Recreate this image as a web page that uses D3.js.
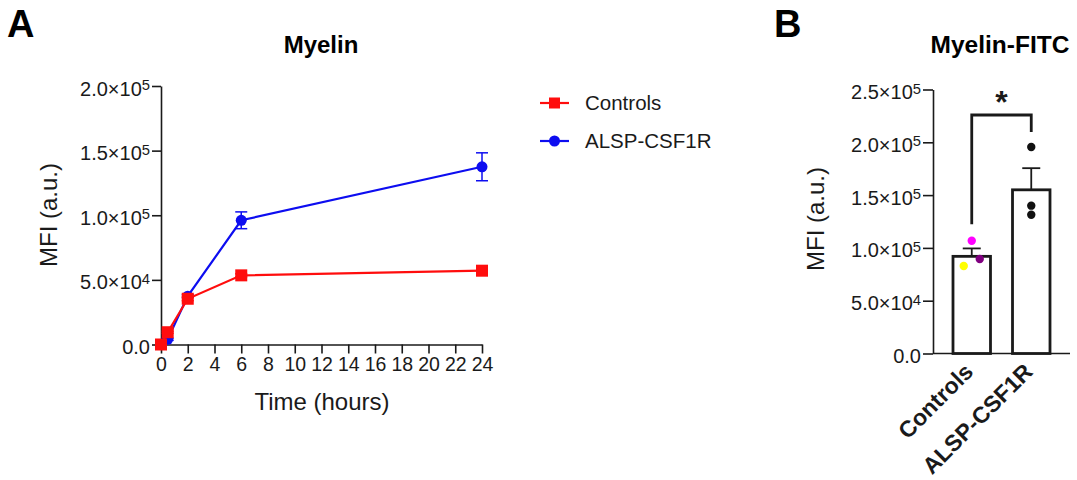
<!DOCTYPE html>
<html><head><meta charset="utf-8">
<script src="https://cdn.jsdelivr.net/npm/d3@7"></script>
<style>body{margin:0;background:#fff}svg{display:block;font-family:"Liberation Sans",Arial,sans-serif}</style>
</head><body><svg id="c" width="1077" height="480"></svg>
<script>
// Panel A data
const times = [0, 0.5, 2, 6, 24];
const controlsMean = [0, 9500, 35400, 53500, 57100];
const controlsErr = [0, 800, 1500, 1200, 1200];
const alspMean = [0, 4000, 37400, 96100, 137500];
const alspErr = [0, 800, 1200, 6500, 10800];
const xTicksA = [0,2,4,6,8,10,12,14,16,18,20,22,24];
const yTicksA = [0, 50000, 100000, 150000, 200000];
// Panel B data
const categoriesB = ["Controls", "ALSP-CSF1R"];
const barMeansB = [92000, 155000];
const barSemB = [7500, 20500];
const controlsPoints = [82900, 106800, 89500];
const alspPoints = [195500, 140000, 131400];
const controlsPointColors = ["#ffff00", "#ff00ff", "#800080"];
const yTicksB = [0, 50000, 100000, 150000, 200000, 250000];

const svg = d3.select("#c");
const ink = "#1a1a1a";
const TICK_FS = 20;

function sciLabels(axisG, fs) {
  axisG.selectAll(".tick text").each(function(d) {
    const t = d3.select(this);
    t.text("");
    if (d === 0) { t.text("0.0"); return; }
    const e = Math.floor(Math.log10(d));
    const m = (d / Math.pow(10, e)).toFixed(1);
    t.append("tspan").text(m + "\u00d710");
    t.append("tspan").attr("dy", "-0.36em").attr("font-size", fs * 0.74).text(e);
  });
}
function styleAxis(g, fs) {
  g.selectAll("path,line").attr("stroke", ink).attr("stroke-width", 1.6);
  g.selectAll("text").attr("fill", ink).attr("font-size", fs).attr("font-family", "Liberation Sans, Arial, sans-serif");
}

// ---------- Panel A ----------
const xA = d3.scaleLinear().domain([0, 24]).range([161, 482]);
const yA = d3.scaleLinear().domain([0, 200000]).range([344.5, 86]);

svg.append("text").attr("x", 7).attr("y", 37).attr("font-size", 38).attr("font-weight", "bold").text("A");
svg.append("text").attr("x", 321).attr("y", 53).attr("text-anchor", "middle").attr("font-size", 24).attr("font-weight", "bold").text("Myelin");

const gxA = svg.append("g").attr("transform", `translate(0,${yA(0)})`)
  .call(d3.axisBottom(xA).tickValues(xTicksA).tickSize(9).tickPadding(4).tickSizeOuter(0));
styleAxis(gxA, 19.5);
const gyA = svg.append("g").attr("transform", `translate(${xA(0)},0)`)
  .call(d3.axisLeft(yA).tickValues(yTicksA).tickSize(9).tickPadding(2).tickSizeOuter(0));
styleAxis(gyA, TICK_FS);
sciLabels(gyA, TICK_FS);
gyA.selectAll(".tick text").attr("dy", "0.45em");

svg.append("text").attr("x", 322).attr("y", 410).attr("text-anchor", "middle").attr("font-size", 24).attr("fill", ink).text("Time (hours)");
svg.append("text").attr("transform", `translate(57,215) rotate(-90)`).attr("text-anchor", "middle").attr("font-size", 24).attr("fill", ink).text("MFI (a.u.)");

const seriesA = [
  {name: "Controls", mean: controlsMean, err: controlsErr, color: "#ff0d0d", shape: "square"},
  {name: "ALSP-CSF1R", mean: alspMean, err: alspErr, color: "#0d0df0", shape: "circle"}
];
const line = d3.line().x(d => xA(d[0])).y(d => yA(d[1]));
[seriesA[1], seriesA[0]].forEach(s => {
  const pts = times.map((t, i) => [t, s.mean[i], s.err[i]]);
  const g = svg.append("g");
  pts.forEach(p => {
    if (p[2] <= 0) return;
    const x = xA(p[0]);
    g.append("line").attr("x1", x).attr("x2", x).attr("y1", yA(p[1] - p[2])).attr("y2", yA(p[1] + p[2])).attr("stroke", s.color).attr("stroke-width", 1.5);
    [p[1] - p[2], p[1] + p[2]].forEach(v => g.append("line").attr("x1", x - 6).attr("x2", x + 6).attr("y1", yA(v)).attr("y2", yA(v)).attr("stroke", s.color).attr("stroke-width", 1.5));
  });
  g.append("path").datum(pts).attr("d", line).attr("fill", "none").attr("stroke", s.color).attr("stroke-width", 2.2);
  pts.forEach(p => {
    if (s.shape === "square") g.append("rect").attr("x", xA(p[0]) - 6).attr("y", yA(p[1]) - 6).attr("width", 12).attr("height", 12).attr("fill", s.color);
    else g.append("circle").attr("cx", xA(p[0])).attr("cy", yA(p[1])).attr("r", 5.5).attr("fill", s.color);
  });
});

// legend
seriesA.forEach((s, i) => {
  const y = 103 + i * 38;
  const g = svg.append("g");
  g.append("line").attr("x1", 540).attr("x2", 569).attr("y1", y).attr("y2", y).attr("stroke", s.color).attr("stroke-width", 2.2);
  if (s.shape === "square") g.append("rect").attr("x", 549).attr("y", y - 5.5).attr("width", 11).attr("height", 11).attr("fill", s.color);
  else g.append("circle").attr("cx", 554.5).attr("cy", y).attr("r", 5.5).attr("fill", s.color);
  g.append("text").attr("x", 585).attr("y", y).attr("dy", "0.36em").attr("font-size", 20.5).attr("fill", ink).text(s.name);
});

// ---------- Panel B ----------
const yB = d3.scaleLinear().domain([0, 250000]).range([353.5, 89.5]);
const xB = d3.scaleBand().domain(categoriesB).range([953, 1050]).paddingInner(0.37).paddingOuter(0);
const axisLeftX = 933, axisRightX = 1070;

svg.append("text").attr("x", 774).attr("y", 37).attr("font-size", 38).attr("font-weight", "bold").text("B");
svg.append("text").attr("x", 1000).attr("y", 53).attr("text-anchor", "middle").attr("font-size", 24.5).attr("font-weight", "bold").text("Myelin-FITC");

const gyB = svg.append("g").attr("transform", `translate(${axisLeftX},0)`)
  .call(d3.axisLeft(yB).tickValues(yTicksB).tickSize(10).tickPadding(2).tickSizeOuter(0));
styleAxis(gyB, TICK_FS);
sciLabels(gyB, TICK_FS);
gyB.selectAll(".tick text").attr("dy", "0.45em");
svg.append("line").attr("x1", axisLeftX).attr("x2", axisRightX).attr("y1", yB(0)).attr("y2", yB(0)).attr("stroke", ink).attr("stroke-width", 1.6);
svg.append("text").attr("transform", `translate(823.5,219) rotate(-90)`).attr("text-anchor", "middle").attr("font-size", 24).attr("fill", ink).text("MFI (a.u.)");

categoriesB.forEach((c, i) => {
  const x0 = xB(c), w = xB.bandwidth(), cx = x0 + w / 2;
  svg.append("rect").attr("x", x0).attr("y", yB(barMeansB[i])).attr("width", w).attr("height", yB(0) - yB(barMeansB[i]))
    .attr("fill", "#fff").attr("stroke", ink).attr("stroke-width", 2.8);
  svg.append("line").attr("x1", cx).attr("x2", cx).attr("y1", yB(barMeansB[i])).attr("y2", yB(barMeansB[i] + barSemB[i])).attr("stroke", ink).attr("stroke-width", 1.8);
  svg.append("line").attr("x1", cx - 9).attr("x2", cx + 9).attr("y1", yB(barMeansB[i] + barSemB[i])).attr("y2", yB(barMeansB[i] + barSemB[i])).attr("stroke", ink).attr("stroke-width", 1.8);
  svg.append("text").attr("transform", `translate(${cx - 7},${yB(0) + 10}) rotate(-45)`).attr("text-anchor", "end").attr("dy", "0.6em")
    .attr("font-size", 23).attr("font-weight", "bold").attr("fill", ink).text(c);
});
const cC = xB("Controls") + xB.bandwidth() / 2;
const jitterC = [-8, 0, 8];
controlsPoints.forEach((v, i) => svg.append("circle").attr("cx", cC + jitterC[i]).attr("cy", yB(v)).attr("r", 4.2).attr("fill", controlsPointColors[i]));
const cA = xB("ALSP-CSF1R") + xB.bandwidth() / 2;
alspPoints.forEach(v => svg.append("circle").attr("cx", cA).attr("cy", yB(v)).attr("r", 4.2).attr("fill", "#111"));

const bracketTop = 115;
svg.append("path").attr("d", `M${cC},${yB(barMeansB[0]) - 32} V${bracketTop} H${cA} V${bracketTop + 17}`)
  .attr("fill", "none").attr("stroke", ink).attr("stroke-width", 2.8);
svg.append("text").attr("x", (cC + cA) / 2).attr("y", 113).attr("text-anchor", "middle").attr("font-size", 32).attr("font-weight", "bold").attr("fill", ink).text("*");
</script></body></html>
